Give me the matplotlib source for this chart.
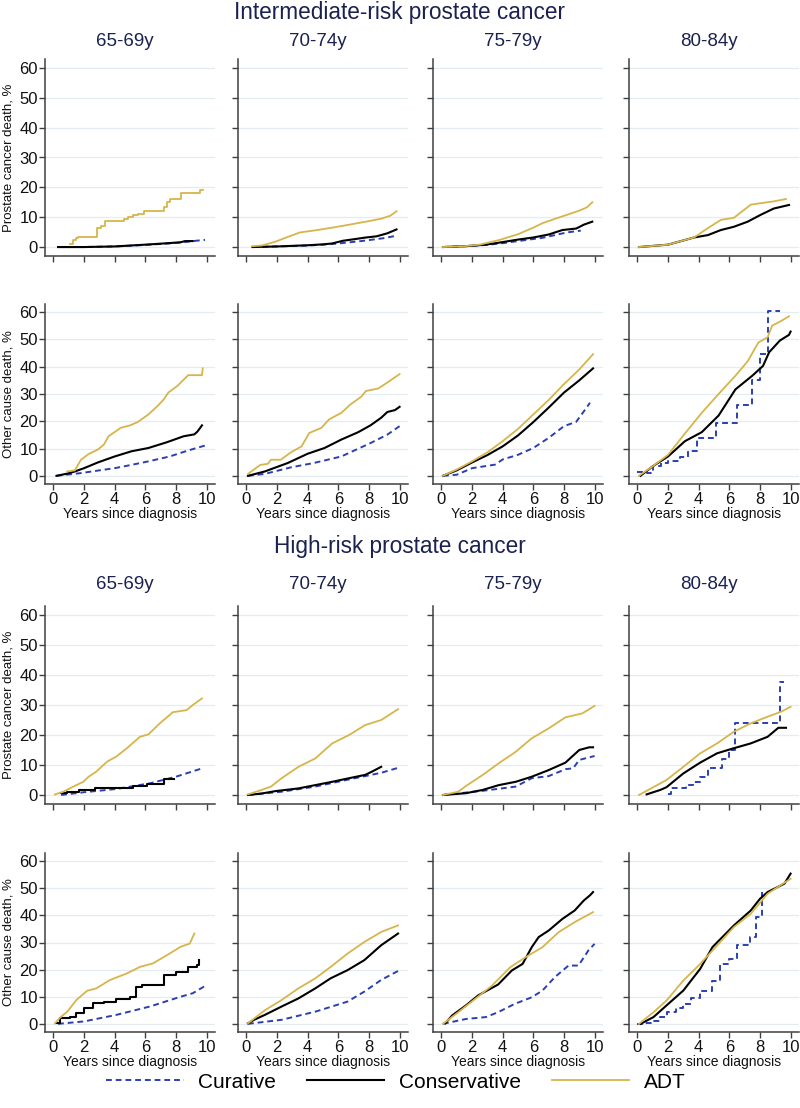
import matplotlib
matplotlib.use("Agg")
import matplotlib.pyplot as plt
from matplotlib.lines import Line2D

plt.rcParams['font.family'] = ['Liberation Sans', 'DejaVu Sans']

# ---------------- data ----------------
age_groups = ["65-69y", "70-74y", "75-79y", "80-84y"]
section_titles = ["Intermediate-risk prostate cancer", "High-risk prostate cancer"]
row_ylabels = ["Prostate cancer death, %", "Other cause death, %"]
series_names = ["Curative", "Conservative", "ADT"]
y_ticks = [0, 10, 20, 30, 40, 50, 60]
x_ticks = [0, 2, 4, 6, 8, 10]

# Intermediate risk, prostate cancer death
int_pcd_65_cur_t = [0.3, 2, 4, 6, 7.5, 8.3, 9.1, 9.9]
int_pcd_65_cur_v = [0, 0, 0.2, 0.7, 1.2, 1.5, 2.0, 2.4]
int_pcd_65_con_t = [0.3, 2, 4, 6, 7.5, 8.3, 8.6, 9.1]
int_pcd_65_con_v = [0, 0, 0.2, 0.8, 1.3, 1.6, 2.0, 2.0]
int_pcd_65_adt_t = [1.1, 1.25, 1.45, 1.6, 2.85, 3.1, 3.4, 4.6, 4.9, 5.2, 5.5, 5.9, 7.2, 7.4, 7.6, 8.3, 9.55, 9.75]
int_pcd_65_adt_v = [1.0, 2.5, 3.0, 3.5, 6.5, 7.0, 8.8, 9.3, 10.0, 10.8, 11.2, 12.0, 13.5, 15.0, 16.0, 18.0, 19.2, 19.2]

int_pcd_70_cur_t = [0.4, 2, 4, 5, 6, 7.5, 9, 9.8]
int_pcd_70_cur_v = [0, 0.2, 0.5, 0.8, 1.2, 2.0, 3.0, 3.8]
int_pcd_70_con_t = [0.4, 2, 4, 5, 5.6, 6.3, 7, 7.8, 8.5, 9.2, 9.8]
int_pcd_70_con_v = [0, 0.2, 0.6, 0.9, 1.2, 2.1, 2.6, 3.2, 3.6, 4.6, 5.9]
int_pcd_70_adt_t = [0.4, 1.0, 1.9, 2.5, 3.5, 4.5, 5.6, 6.5, 7.8, 8.8, 9.4, 9.8]
int_pcd_70_adt_v = [0.3, 0.5, 1.8, 3.0, 4.9, 5.6, 6.5, 7.3, 8.5, 9.5, 10.5, 12.0]

int_pcd_75_cur_t = [0.1, 1.6, 2.9, 4.0, 5.0, 6.6, 8.2, 9.1]
int_pcd_75_cur_v = [0, 0.3, 0.7, 1.3, 2.0, 3.1, 4.9, 5.5]
int_pcd_75_con_t = [0.1, 1.6, 2.9, 3.8, 5.0, 6.0, 7.0, 7.9, 8.8, 9.3, 9.85]
int_pcd_75_con_v = [0, 0.3, 0.8, 1.5, 2.5, 3.2, 4.2, 5.7, 6.2, 7.5, 8.5]
int_pcd_75_adt_t = [0.1, 1.5, 2.5, 3.8, 5.0, 6.0, 6.6, 7.5, 8.2, 9.0, 9.5, 9.85]
int_pcd_75_adt_v = [0, 0.3, 0.8, 2.4, 4.3, 6.5, 8.0, 9.6, 10.8, 12.2, 13.3, 15.0]

int_pcd_80_con_t = [0.1, 2.0, 3.7, 4.6, 5.45, 6.3, 7.2, 8.05, 8.9, 9.9]
int_pcd_80_con_v = [0, 0.8, 3.2, 4.0, 5.7, 6.8, 8.5, 10.8, 12.9, 14.1]
int_pcd_80_adt_t = [0.1, 2.0, 3.7, 4.5, 5.45, 6.3, 7.4, 8.05, 8.9, 9.7]
int_pcd_80_adt_v = [0, 0.8, 3.2, 6.0, 9.1, 9.8, 14.2, 14.7, 15.3, 16.1]

# Intermediate risk, other cause death
int_ocd_65_cur_t = [0.2, 1.0, 1.8, 3.0, 4.0, 5.0, 6.2, 7.6, 8.8, 9.9]
int_ocd_65_cur_v = [0, 0.5, 1.0, 2.0, 2.8, 3.9, 5.3, 7.1, 9.3, 11.1]
int_ocd_65_con_t = [0.2, 0.9, 1.4, 2.0, 2.9, 4.0, 5.1, 6.2, 7.4, 8.5, 9.2, 9.4, 9.7]
int_ocd_65_con_v = [0, 0.8, 1.6, 2.8, 4.9, 7.1, 9.0, 10.2, 12.3, 14.5, 15.2, 16.2, 18.5]
int_ocd_65_adt_t = [0.9, 1.4, 1.8, 2.3, 2.9, 3.3, 3.6, 4.4, 5.0, 5.5, 6.2, 6.8, 7.2, 7.5, 8.1, 8.8, 9.7, 9.75]
int_ocd_65_adt_v = [1.6, 2.0, 5.9, 8.0, 9.6, 11.5, 14.5, 17.6, 18.5, 19.7, 22.5, 25.6, 28.0, 30.5, 33.0, 36.9, 36.9, 39.4]

int_ocd_70_cur_t = [0.1, 1.2, 2.9, 4.4, 6.2, 7.05, 8.1, 9.2, 10.0]
int_ocd_70_cur_v = [0, 0.7, 3.1, 4.7, 7.1, 9.3, 12.0, 15.1, 18.2]
int_ocd_70_con_t = [0.1, 1.2, 2.7, 4.0, 5.1, 6.2, 7.3, 8.1, 8.8, 9.2, 9.7, 10.0]
int_ocd_70_con_v = [0, 1.6, 4.7, 8.1, 10.2, 13.3, 16.0, 18.5, 21.3, 23.4, 24.1, 25.3]
int_ocd_70_adt_t = [0.1, 0.9, 1.4, 1.6, 2.25, 2.9, 3.6, 4.1, 4.9, 5.4, 6.2, 6.8, 7.5, 7.8, 8.6, 9.2, 10.0]
int_ocd_70_adt_v = [0.7, 4.0, 4.4, 5.9, 5.9, 8.6, 10.8, 15.7, 17.6, 20.7, 23.1, 26.2, 29.0, 31.1, 32.0, 34.2, 37.3]

int_ocd_75_cur_t = [0.1, 1.0, 2.0, 3.5, 4.0, 5.0, 6.0, 7.0, 8.0, 8.8, 9.4, 9.7]
int_ocd_75_cur_v = [0, 0.4, 2.8, 4.1, 6.0, 7.7, 10.2, 13.9, 18.2, 19.8, 24.4, 26.8]
int_ocd_75_con_t = [0.1, 1.0, 2.0, 3.0, 4.0, 5.0, 6.0, 7.0, 8.0, 9.0, 9.9]
int_ocd_75_con_v = [0, 2.0, 4.9, 7.6, 10.8, 14.8, 19.7, 25.0, 30.5, 35.0, 39.4]
int_ocd_75_adt_t = [0.1, 1.0, 2.0, 3.0, 4.0, 5.0, 6.0, 7.0, 8.0, 9.0, 9.9]
int_ocd_75_adt_v = [0, 2.3, 5.3, 8.6, 12.7, 17.2, 22.5, 27.8, 33.6, 39.0, 44.6]

int_ocd_80_cur_t = [0, 0.6, 1.0, 1.55, 2.0, 2.8, 3.3, 3.9, 5.1, 6.5, 7.45, 8.0, 8.5, 9.3]
int_ocd_80_cur_v = [1.5, 1.0, 3.5, 4.8, 5.3, 7.0, 9.0, 13.9, 19.4, 25.8, 35.2, 44.6, 60.3, 60.3]
int_ocd_80_con_t = [0.2, 1.0, 2.0, 3.1, 4.2, 5.3, 6.4, 7.5, 8.2, 8.6, 9.3, 9.9, 10.0]
int_ocd_80_con_v = [0, 3.5, 7.1, 12.7, 16.0, 22.1, 31.7, 36.7, 40.3, 45.3, 49.6, 51.7, 52.9]
int_ocd_80_adt_t = [0.1, 1.0, 2.0, 3.1, 4.2, 5.3, 6.4, 7.2, 7.9, 8.5, 8.8, 9.3, 9.9]
int_ocd_80_adt_v = [0, 3.5, 7.7, 15.5, 23.1, 30.0, 36.7, 42.0, 48.9, 50.8, 55.1, 56.5, 58.5]

# High risk, prostate cancer death
hi_pcd_65_cur_t = [0.5, 1.95, 4.1, 6.3, 8.0, 9.6]
hi_pcd_65_cur_v = [0, 0.9, 2.0, 3.9, 6.1, 8.7]
hi_pcd_65_con_t = [0.5, 0.9, 1.7, 2.7, 5.0, 5.2, 6.1, 7.2, 7.9]
hi_pcd_65_con_v = [0.6, 1.1, 1.7, 2.2, 2.4, 3.0, 3.6, 5.5, 5.5]
hi_pcd_65_adt_t = [0.1, 0.65, 1.3, 1.95, 2.3, 2.8, 3.5, 4.1, 4.8, 5.65, 6.2, 6.95, 7.8, 8.7, 9.1, 9.7]
hi_pcd_65_adt_v = [0.2, 1.1, 2.8, 4.4, 6.1, 7.8, 11.1, 12.8, 15.6, 19.4, 20.2, 23.9, 27.6, 28.3, 30.0, 32.2]

hi_pcd_70_cur_t = [0.1, 2.3, 4.5, 6.7, 8.8, 10.0]
hi_pcd_70_cur_v = [0, 1.1, 2.8, 5.2, 7.4, 9.2]
hi_pcd_70_con_t = [0.1, 1.0, 1.9, 3.4, 4.5, 5.6, 6.7, 7.75, 8.2, 8.8]
hi_pcd_70_con_v = [0, 0.5, 1.3, 2.2, 3.3, 4.4, 5.6, 6.7, 7.8, 9.4]
hi_pcd_70_adt_t = [0.1, 1.0, 1.6, 2.3, 3.4, 4.5, 5.6, 6.7, 7.75, 8.8, 9.9]
hi_pcd_70_adt_v = [0.2, 1.7, 2.8, 5.6, 9.4, 12.2, 17.2, 20.0, 23.3, 25.0, 28.6]

hi_pcd_75_cur_t = [0.1, 2.7, 4.85, 5.9, 7.0, 8.1, 8.6, 9.0, 10.0]
hi_pcd_75_cur_v = [0, 1.4, 2.8, 5.6, 6.3, 8.6, 8.9, 11.7, 13.0]
hi_pcd_75_con_t = [0.1, 1.6, 2.7, 3.75, 4.85, 5.9, 7.0, 8.1, 9.0, 9.65, 9.9]
hi_pcd_75_con_v = [0, 0.6, 1.7, 3.3, 4.4, 6.1, 8.3, 10.8, 15.0, 15.9, 15.9]
hi_pcd_75_adt_t = [0.1, 1.1, 1.6, 2.7, 3.75, 4.85, 5.9, 7.0, 8.1, 9.2, 10.0]
hi_pcd_75_adt_v = [0, 1.1, 3.0, 6.7, 10.6, 14.4, 18.9, 22.2, 25.9, 27.2, 29.7]

hi_pcd_80_cur_t = [2.0, 2.2, 3.2, 3.6, 4.1, 4.6, 5.5, 6.0, 6.4, 9.3, 9.55]
hi_pcd_80_cur_v = [0.3, 2.2, 3.3, 4.5, 6.1, 8.9, 12.0, 15.0, 23.9, 37.8, 37.8]
hi_pcd_80_con_t = [0.6, 1.5, 1.9, 3.0, 4.1, 5.2, 6.3, 7.4, 8.5, 9.2, 9.7]
hi_pcd_80_con_v = [0.2, 1.7, 2.6, 7.2, 10.8, 13.9, 15.6, 17.2, 19.4, 22.4, 22.4]
hi_pcd_80_adt_t = [0.1, 1.9, 3.0, 4.1, 5.2, 6.3, 7.4, 8.5, 9.4, 10.0]
hi_pcd_80_adt_v = [0, 5.0, 9.4, 13.9, 17.2, 21.1, 23.9, 26.1, 27.8, 29.4]

# High risk, other cause death
hi_ocd_65_cur_t = [0.3, 2.0, 4.1, 6.3, 8.3, 9.1, 10.0]
hi_ocd_65_cur_v = [0, 0.9, 3.3, 6.4, 10.0, 11.3, 14.3]
hi_ocd_65_con_t = [0.2, 0.4, 1.1, 1.5, 2.0, 2.6, 3.3, 4.1, 5.0, 5.4, 5.8, 6.7, 7.2, 8.0, 8.8, 9.35, 9.5]
hi_ocd_65_con_v = [0.2, 2.0, 2.7, 3.9, 5.8, 7.6, 8.2, 9.1, 10.0, 13.7, 14.3, 14.3, 18.0, 19.2, 21.0, 21.7, 23.5]
hi_ocd_65_adt_t = [0.1, 0.4, 0.9, 1.5, 2.2, 2.8, 3.7, 4.8, 5.65, 6.5, 7.4, 8.3, 8.9, 9.2]
hi_ocd_65_adt_v = [0.2, 2.1, 4.5, 8.8, 12.2, 13.1, 16.2, 18.6, 21.0, 22.3, 25.3, 28.4, 29.6, 33.3]

hi_ocd_70_cur_t = [0.1, 2.3, 4.5, 6.6, 7.7, 8.8, 10.0]
hi_ocd_70_cur_v = [0, 1.5, 4.5, 8.2, 11.9, 16.2, 19.8]
hi_ocd_70_con_t = [0.1, 0.5, 1.2, 2.3, 3.4, 4.5, 5.5, 6.6, 7.7, 8.8, 9.9]
hi_ocd_70_con_v = [0.2, 1.5, 3.3, 6.4, 9.4, 13.1, 16.8, 19.8, 23.5, 29.0, 33.3]
hi_ocd_70_adt_t = [0.1, 1.2, 2.3, 3.4, 4.5, 5.5, 6.6, 7.7, 8.8, 9.9]
hi_ocd_70_adt_v = [0.2, 5.0, 8.8, 13.1, 16.8, 21.0, 25.9, 30.2, 33.9, 36.3]

hi_ocd_75_cur_t = [0.1, 1.6, 2.9, 3.7, 4.8, 5.9, 6.6, 7.4, 8.3, 8.95, 9.6, 10.0]
hi_ocd_75_cur_v = [0, 1.8, 2.5, 4.3, 7.4, 9.8, 12.3, 17.2, 21.5, 21.5, 27.1, 29.5]
hi_ocd_75_con_t = [0.25, 0.7, 1.6, 2.4, 3.7, 4.6, 5.3, 5.9, 6.35, 7.0, 7.9, 8.7, 9.3, 9.7, 9.9]
hi_ocd_75_con_v = [0.2, 3.1, 6.8, 10.5, 14.5, 19.7, 22.1, 28.3, 32.0, 34.4, 38.7, 41.8, 45.5, 47.4, 48.6]
hi_ocd_75_adt_t = [0.1, 1.1, 2.2, 3.3, 4.5, 5.5, 6.6, 7.65, 8.7, 9.9]
hi_ocd_75_adt_v = [0, 4.3, 9.2, 14.1, 20.9, 24.6, 28.3, 33.8, 37.5, 41.2]

hi_ocd_80_cur_t = [0, 0.5, 1.05, 1.5, 1.9, 2.5, 3.0, 3.5, 4.1, 4.87, 5.41, 5.96, 6.5, 7.34, 7.71, 8.14]
hi_ocd_80_cur_v = [0, 0.5, 1.0, 2.5, 4.3, 6.0, 7.4, 9.5, 12.3, 15.9, 22.1, 24.0, 28.9, 32.0, 39.4, 48.6]
hi_ocd_80_con_t = [0.2, 1.05, 1.9, 3.0, 4.1, 4.9, 6.3, 7.4, 8.0, 8.5, 9.6, 10.0]
hi_ocd_80_con_v = [0, 2.5, 6.8, 12.3, 20.3, 28.3, 36.3, 41.8, 46.1, 48.6, 51.7, 55.4]
hi_ocd_80_adt_t = [0.1, 1.05, 1.9, 3.0, 4.1, 5.2, 6.3, 7.4, 8.5, 10.0]
hi_ocd_80_adt_v = [0, 4.3, 8.6, 16.0, 22.1, 28.9, 35.7, 40.6, 48.0, 53.5]

# ---------------- styling ----------------
C_CUR = '#2b3fb0'
C_CON = '#000000'
C_ADT = '#d6b54a'
NAVY = '#1b2250'
SPINE = '#404040'
GRID = '#e3ecf1'

W, H = 800, 1108
fig = plt.figure(figsize=(W / 100, H / 100), dpi=100)

col_left = [45, 238, 433, 629]
col_w = 170
row_box = [(59, 256), (304, 484), (606, 804), (853, 1032)]

panels = [
    [  # row 0: intermediate PCa death
        [(int_pcd_65_cur_t, int_pcd_65_cur_v, False), (int_pcd_65_con_t, int_pcd_65_con_v, False), (int_pcd_65_adt_t, int_pcd_65_adt_v, True)],
        [(int_pcd_70_cur_t, int_pcd_70_cur_v, False), (int_pcd_70_con_t, int_pcd_70_con_v, False), (int_pcd_70_adt_t, int_pcd_70_adt_v, False)],
        [(int_pcd_75_cur_t, int_pcd_75_cur_v, False), (int_pcd_75_con_t, int_pcd_75_con_v, False), (int_pcd_75_adt_t, int_pcd_75_adt_v, False)],
        [None, (int_pcd_80_con_t, int_pcd_80_con_v, False), (int_pcd_80_adt_t, int_pcd_80_adt_v, False)],
    ],
    [
        [(int_ocd_65_cur_t, int_ocd_65_cur_v, False), (int_ocd_65_con_t, int_ocd_65_con_v, False), (int_ocd_65_adt_t, int_ocd_65_adt_v, False)],
        [(int_ocd_70_cur_t, int_ocd_70_cur_v, False), (int_ocd_70_con_t, int_ocd_70_con_v, False), (int_ocd_70_adt_t, int_ocd_70_adt_v, False)],
        [(int_ocd_75_cur_t, int_ocd_75_cur_v, False), (int_ocd_75_con_t, int_ocd_75_con_v, False), (int_ocd_75_adt_t, int_ocd_75_adt_v, False)],
        [(int_ocd_80_cur_t, int_ocd_80_cur_v, True), (int_ocd_80_con_t, int_ocd_80_con_v, False), (int_ocd_80_adt_t, int_ocd_80_adt_v, False)],
    ],
    [
        [(hi_pcd_65_cur_t, hi_pcd_65_cur_v, False), (hi_pcd_65_con_t, hi_pcd_65_con_v, True), (hi_pcd_65_adt_t, hi_pcd_65_adt_v, False)],
        [(hi_pcd_70_cur_t, hi_pcd_70_cur_v, False), (hi_pcd_70_con_t, hi_pcd_70_con_v, False), (hi_pcd_70_adt_t, hi_pcd_70_adt_v, False)],
        [(hi_pcd_75_cur_t, hi_pcd_75_cur_v, False), (hi_pcd_75_con_t, hi_pcd_75_con_v, False), (hi_pcd_75_adt_t, hi_pcd_75_adt_v, False)],
        [(hi_pcd_80_cur_t, hi_pcd_80_cur_v, True), (hi_pcd_80_con_t, hi_pcd_80_con_v, False), (hi_pcd_80_adt_t, hi_pcd_80_adt_v, False)],
    ],
    [
        [(hi_ocd_65_cur_t, hi_ocd_65_cur_v, False), (hi_ocd_65_con_t, hi_ocd_65_con_v, True), (hi_ocd_65_adt_t, hi_ocd_65_adt_v, False)],
        [(hi_ocd_70_cur_t, hi_ocd_70_cur_v, False), (hi_ocd_70_con_t, hi_ocd_70_con_v, False), (hi_ocd_70_adt_t, hi_ocd_70_adt_v, False)],
        [(hi_ocd_75_cur_t, hi_ocd_75_cur_v, False), (hi_ocd_75_con_t, hi_ocd_75_con_v, False), (hi_ocd_75_adt_t, hi_ocd_75_adt_v, False)],
        [(hi_ocd_80_cur_t, hi_ocd_80_cur_v, True), (hi_ocd_80_con_t, hi_ocd_80_con_v, False), (hi_ocd_80_adt_t, hi_ocd_80_adt_v, False)],
    ],
]

styles = [
    dict(color=C_CUR, lw=1.4, ls=(0, (3, 2)), zorder=3),
    dict(color=C_CON, lw=1.5, ls='-', zorder=4),
    dict(color=C_ADT, lw=1.3, ls='-', zorder=5),
]

for r in range(4):
    top, bot = row_box[r]
    for c in range(4):
        l = col_left[c]
        ax = fig.add_axes([l / W, 1 - bot / H, col_w / W, (bot - top) / H])
        ax.set_xlim(-0.55, 10.55)
        ax.set_ylim(-3, 63)
        ax.set_yticks(y_ticks)
        ax.set_xticks(x_ticks)
        for s in ['top', 'right']:
            ax.spines[s].set_visible(False)
        for s in ['left', 'bottom']:
            ax.spines[s].set_color(SPINE)
            ax.spines[s].set_linewidth(1.1)
        ax.tick_params(axis='both', colors=SPINE, length=4, width=1.0, direction='out',
                       labelsize=12, labelcolor='#111111')
        ax.tick_params(axis='y', pad=1)
        ax.tick_params(axis='x', pad=2)
        for yv in y_ticks:
            ax.axhline(yv, color=GRID, lw=0.9, zorder=0)
        if c > 0:
            ax.set_yticklabels([])
        if r in (0, 2):
            ax.set_xticklabels([])
        else:
            ax.set_xlabel("Years since diagnosis", fontsize=10, color='#111111', labelpad=0)
        for k, entry in enumerate(panels[r][c]):
            if entry is None:
                continue
            t, v, step = entry
            st = styles[k]
            ax.plot(t, v, color=st['color'], lw=st['lw'], ls=st['ls'], zorder=st['zorder'],
                    drawstyle='steps-post' if step else 'default')
        if r in (0, 2):
            fig.text((l + col_w / 2 - 5) / W, 1 - 42 / H if r == 0 else 1 - 584 / H,
                     age_groups[c], ha='center', va='center', fontsize=13.5, color=NAVY)
    fig.text(9 / W, 1 - ((top + bot) / 2) / H, row_ylabels[r % 2], rotation=90,
             ha='center', va='center', fontsize=9.5, color='#111111')

fig.text(0.5, 1 - 13 / H, section_titles[0], ha='center', va='center', fontsize=16.3, color=NAVY)
fig.text(0.5, 1 - 546 / H, section_titles[1], ha='center', va='center', fontsize=16.3, color=NAVY)

handles = [Line2D([], [], color=styles[k]['color'], lw=styles[k]['lw'], ls=styles[k]['ls'])
           for k in range(3)]
fig.legend(handles, series_names, loc='center', bbox_to_anchor=(0.495, 1 - 1082 / H), ncol=3,
           frameon=False, fontsize=15, handlelength=3.7, handletextpad=0.7, columnspacing=1.5)

fig.savefig("out.png", dpi=100, facecolor='white')
